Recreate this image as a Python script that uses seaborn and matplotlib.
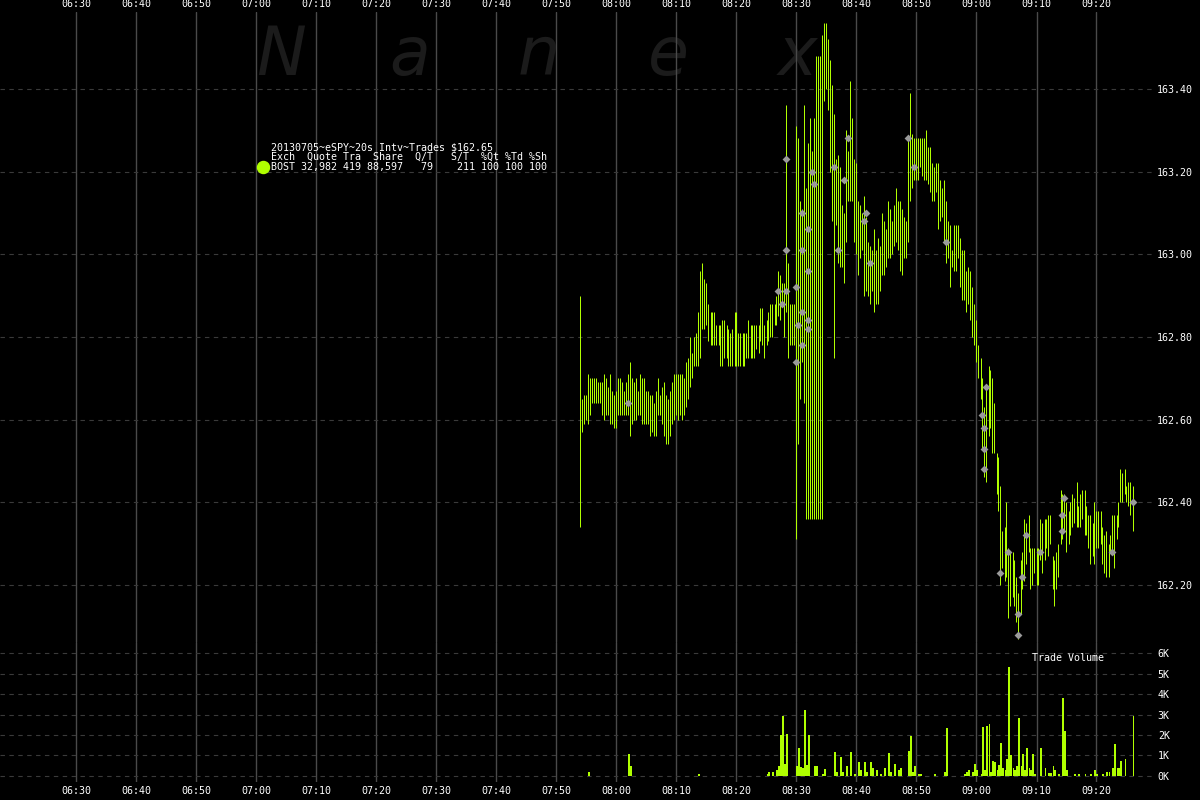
import numpy as np
import pandas as pd
import matplotlib
matplotlib.use("Agg")
import matplotlib.pyplot as plt
import matplotlib.dates as mdates
import seaborn as sns

# estilo escuro tipo Nanex
sns.set_theme(style="dark", rc={"axes.facecolor": "black", "figure.facecolor": "black",
                                "savefig.facecolor": "black"})
plt.rcParams['font.family'] = ['DejaVu Sans Mono', 'DejaVu Sans']

LIME = "#b0ff00"
GRID_V = "#4a4a4a"
GRID_H = "#3a3a3a"

# dados: barras de 20s a partir das 07:54:00
bar_start = "2013-07-05 07:54:00"
highs = [
    162.90, 162.65, 162.66, 162.66, 162.71, 162.70, 162.70, 162.70, 162.70, 162.69,
    162.69, 162.69, 162.71, 162.70, 162.68, 162.71, 162.67, 162.66, 162.67, 162.70,
    162.70, 162.69, 162.67, 162.69, 162.71, 162.74, 162.70, 162.69, 162.70, 162.67,
    162.71, 162.70, 162.70, 162.67, 162.67, 162.66, 162.66, 162.64, 162.67, 162.70,
    162.66, 162.68, 162.69, 162.66, 162.65, 162.67, 162.69, 162.71, 162.71, 162.71,
    162.71, 162.71, 162.70, 162.74, 162.75, 162.80, 162.76, 162.80, 162.81, 162.86,
    162.96, 162.98, 162.94, 162.93, 162.88, 162.86, 162.86, 162.86, 162.83, 162.83,
    162.83, 162.84, 162.84, 162.83, 162.82, 162.81, 162.82, 162.86, 162.86, 162.81,
    162.81, 162.81, 162.81, 162.81, 162.84, 162.83, 162.83, 162.83, 162.83, 162.83,
    162.87, 162.87, 162.83, 162.84, 162.86, 162.88, 162.88, 162.88, 162.90, 162.96,
    162.95, 162.93, 162.93, 163.36, 162.98, 162.88, 162.88, 162.88, 163.31, 163.28,
    163.13, 163.11, 163.36, 163.16, 163.27, 163.33, 163.25, 163.33, 163.48, 163.48,
    163.48, 163.53, 163.56, 163.56, 163.52, 163.47, 163.41, 163.34, 163.23, 163.24,
    163.21, 163.12, 163.10, 163.30, 163.25, 163.42, 163.33, 163.23, 163.22, 163.13,
    163.12, 163.10, 163.14, 163.09, 163.03, 163.02, 163.01, 163.06, 163.01, 163.04,
    163.02, 163.10, 163.08, 163.06, 163.13, 163.11, 163.08, 163.12, 163.16, 163.13,
    163.13, 163.11, 163.09, 163.08, 163.28, 163.39, 163.29, 163.28, 163.28, 163.28,
    163.28, 163.28, 163.28, 163.30, 163.26, 163.26, 163.22, 163.21, 163.22, 163.22,
    163.18, 163.16, 163.18, 163.13, 163.08, 163.07, 163.01, 163.07, 163.07, 163.07,
    163.04, 163.01, 163.01, 162.96, 162.97, 162.96, 162.92, 162.88, 162.84, 162.78,
    162.75, 162.70, 162.63, 162.68, 162.73, 162.72, 162.70, 162.64, 162.52, 162.51,
    162.44, 162.33, 162.34, 162.40, 162.29, 162.28, 162.28, 162.26, 162.22, 162.18,
    162.26, 162.28, 162.36, 162.35, 162.37, 162.29, 162.29, 162.29, 162.29, 162.29,
    162.36, 162.35, 162.36, 162.36, 162.37, 162.37, 162.27, 162.26, 162.28, 162.30,
    162.43, 162.42, 162.42, 162.40, 162.38, 162.40, 162.42, 162.41, 162.45, 162.39,
    162.42, 162.43, 162.43, 162.39, 162.37, 162.37, 162.35, 162.40, 162.38, 162.38,
    162.38, 162.34, 162.32, 162.33, 162.30, 162.32, 162.37, 162.37, 162.37, 162.40,
    162.48, 162.47, 162.48, 162.44, 162.45, 162.45, 162.44,
]
lows = [
    162.34, 162.57, 162.59, 162.60, 162.59, 162.61, 162.64, 162.64, 162.64, 162.64,
    162.64, 162.61, 162.60, 162.61, 162.61, 162.59, 162.59, 162.58, 162.58, 162.61,
    162.61, 162.61, 162.61, 162.61, 162.61, 162.56, 162.59, 162.60, 162.60, 162.61,
    162.61, 162.59, 162.59, 162.59, 162.59, 162.56, 162.57, 162.56, 162.56, 162.61,
    162.61, 162.59, 162.56, 162.54, 162.54, 162.56, 162.59, 162.60, 162.61, 162.60,
    162.61, 162.60, 162.61, 162.63, 162.65, 162.68, 162.70, 162.73, 162.73, 162.73,
    162.75, 162.82, 162.82, 162.83, 162.79, 162.78, 162.78, 162.78, 162.78, 162.78,
    162.73, 162.73, 162.75, 162.75, 162.73, 162.73, 162.73, 162.73, 162.73, 162.73,
    162.73, 162.73, 162.73, 162.75, 162.75, 162.75, 162.75, 162.75, 162.77, 162.76,
    162.79, 162.78, 162.75, 162.78, 162.79, 162.80, 162.80, 162.83, 162.83, 162.85,
    162.84, 162.88, 162.80, 162.86, 162.75, 162.78, 162.78, 162.78, 162.31, 162.54,
    162.65, 162.74, 162.64, 162.36, 162.36, 162.36, 162.36, 162.36, 162.36, 162.36,
    162.36, 162.36, 163.37, 163.40, 163.35, 163.20, 163.08, 162.75, 163.07, 162.98,
    162.97, 162.97, 162.93, 163.03, 163.13, 163.13, 163.13, 163.03, 163.00, 162.95,
    162.99, 163.01, 162.90, 162.91, 162.90, 162.88, 162.91, 162.86, 162.88, 162.88,
    162.91, 162.95, 162.95, 162.97, 162.99, 162.99, 163.00, 163.02, 163.03, 163.01,
    162.96, 162.95, 162.99, 162.99, 163.03, 163.13, 163.16, 163.18, 163.18, 163.18,
    163.21, 163.19, 163.18, 163.18, 163.17, 163.15, 163.13, 163.13, 163.15, 163.06,
    163.08, 163.09, 163.03, 162.98, 162.99, 162.92, 162.97, 162.96, 162.96, 162.99,
    162.92, 162.89, 162.89, 162.86, 162.88, 162.84, 162.80, 162.78, 162.74, 162.70,
    162.65, 162.53, 162.46, 162.45, 162.56, 162.58, 162.52, 162.52, 162.42, 162.38,
    162.20, 162.24, 162.21, 162.22, 162.12, 162.15, 162.17, 162.15, 162.11, 162.07,
    162.13, 162.19, 162.21, 162.25, 162.28, 162.19, 162.20, 162.23, 162.20, 162.20,
    162.26, 162.23, 162.26, 162.29, 162.27, 162.30, 162.19, 162.15, 162.19, 162.22,
    162.30, 162.31, 162.33, 162.28, 162.30, 162.32, 162.34, 162.35, 162.34, 162.34,
    162.34, 162.36, 162.32, 162.32, 162.29, 162.25, 162.27, 162.25, 162.29, 162.29,
    162.30, 162.25, 162.23, 162.22, 162.22, 162.28, 162.28, 162.24, 162.31, 162.34,
    162.40, 162.40, 162.42, 162.40, 162.39, 162.37, 162.33,
]

# pontos cinza (negócios marcados)
dot_bar = [24, 99, 101, 103, 103, 103, 108, 108, 109, 111, 111, 111, 111, 114, 114,
           114, 114, 116, 117, 127, 129, 132, 134, 142, 143, 145, 164, 167, 183, 201,
           202, 202, 202, 203, 210, 214, 219, 219, 221, 223, 230, 241, 241, 242, 266, 276]
dot_price = [162.64, 162.91, 162.88, 163.23, 163.01, 162.91, 162.92, 162.74, 162.83,
             163.10, 163.01, 162.86, 162.78, 163.06, 162.96, 162.84, 162.82, 163.20,
             163.17, 163.21, 163.01, 163.18, 163.28, 163.08, 163.10, 162.98, 163.28,
             163.21, 163.03, 162.61, 162.58, 162.53, 162.48, 162.68, 162.23, 162.28,
             162.13, 162.08, 162.22, 162.32, 162.28, 162.37, 162.33, 162.41, 162.28,
             162.40]

# volume por barra (índice da barra, ações)
vol_bar = [4, 24, 25, 59, 93, 94, 96, 98, 99, 100, 101, 102, 103, 108, 109, 110, 111,
           112, 113, 114, 117, 118, 121, 122, 127, 128, 130, 131, 133, 135, 137, 139,
           140, 142, 143, 145, 146, 148, 150, 152, 154, 155, 157, 159, 160, 164, 165,
           166, 167, 169, 170, 177, 182, 183, 192, 193, 194, 196, 197, 198, 200, 201,
           202, 203, 204, 205, 206, 207, 208, 209, 210, 211, 212, 213, 214, 215, 216,
           217, 218, 219, 220, 221, 222, 223, 224, 225, 226, 227, 230, 232, 234, 235,
           236, 237, 239, 241, 242, 243, 247, 249, 252, 255, 257, 258, 261, 263, 264,
           266, 267, 268, 269, 270, 272, 276]
vol_size = [200, 1050, 500, 100, 100, 200, 200, 300, 500, 2000, 2950, 600, 2050, 500,
            1350, 450, 400, 3200, 550, 2000, 500, 500, 100, 350, 1150, 200, 950, 200,
            500, 1150, 100, 700, 300, 700, 200, 700, 400, 300, 100, 400, 1100, 200, 600,
            300, 400, 1200, 1950, 200, 500, 100, 100, 100, 200, 2350, 100, 200, 300, 200,
            600, 300, 100, 2400, 300, 2450, 2550, 200, 750, 700, 300, 550, 1600, 400,
            300, 850, 5300, 1000, 400, 300, 500, 2850, 500, 1050, 300, 1350, 400, 300,
            1050, 100, 1350, 400, 150, 150, 500, 300, 100, 3800, 2200, 300, 100, 100,
            100, 100, 300, 100, 100, 200, 200, 400, 1550, 400, 400, 750, 850, 2950]

price_ticks = [162.20, 162.40, 162.60, 162.80, 163.00, 163.20, 163.40]
vol_ticks = [0, 1000, 2000, 3000, 4000, 5000, 6000]
vol_labels = ["0K", "1K", "2K", "3K", "4K", "5K", "6K"]
legend_lines = [
    "20130705~eSPY~20s Intv~Trades $162.65",
    "Exch  Quote Tra  Share  Q/T   S/T  %Qt %Td %Sh",
    "BOST 32,982 419 88,597   79    211 100 100 100",
]

times = pd.date_range(bar_start, periods=len(highs), freq="20s")
df = pd.DataFrame({"time": times, "high": highs, "low": lows})
dots = pd.DataFrame({"time": times[dot_bar], "price": dot_price})
vol = pd.DataFrame({"time": times[vol_bar], "size": vol_size})

W, H = 1200, 800
x0 = pd.Timestamp("2013-07-05 06:17:15")
x1 = pd.Timestamp("2013-07-05 09:29:45")
grid_times = pd.date_range("2013-07-05 06:30", "2013-07-05 09:20", freq="10min")

fig = plt.figure(figsize=(12, 8), dpi=100)
ax = fig.add_axes([0, (H - 642) / H, 1155 / W, (642 - 12) / H])
axv = fig.add_axes([0, (H - 782) / H, 1155 / W, (782 - 642) / H])

# marca d'água
for i, ch in enumerate("Nanex"):
    ax.text((281 + 129 * i) / W, 1 - 75 / H, ch, transform=fig.transFigure,
            fontsize=48, style="italic", family="DejaVu Sans", color="#1b1b1b",
            ha="center", va="baseline", zorder=0)

# barras de preço (1 px de largura)
ax.vlines(df["time"], df["low"], df["high"], colors=LIME, linewidth=0.72,
          snap=True, zorder=2)
sns.scatterplot(data=dots, x="time", y="price", ax=ax, marker="D", s=16,
                color="#9a9a9a", edgecolor="#9a9a9a", linewidth=0, zorder=3, legend=False)

ax.set_xlim(x0, x1)
ax.set_ylim(162.062, 163.586)
ax.set_yticks(price_ticks)
ax.set_yticklabels([f"{p:.2f}" for p in price_ticks])
ax.set_xticks(grid_times)
ax.xaxis.set_major_formatter(mdates.DateFormatter("%H:%M"))
ax.xaxis.tick_top()
ax.yaxis.tick_right()
ax.tick_params(axis="x", length=0, pad=2, labelsize=7.2, colors="white")
ax.tick_params(axis="y", length=0, pad=1.5, labelsize=7.2, colors="white")
ax.grid(axis="x", color=GRID_V, linewidth=1, linestyle="-")
ax.grid(axis="y", color=GRID_H, linewidth=0.8, linestyle=(0, (4, 4)))
ax.set_axisbelow(True)
ax.set_xlabel("")
ax.set_ylabel("")
for s in ax.spines.values():
    s.set_visible(False)

# legenda
ax.scatter([263 / W], [1 - 167 / H], s=75, color=LIME, transform=fig.transFigure,
           clip_on=False, zorder=4)
for i, line in enumerate(legend_lines):
    fig.text(271 / W, 1 - (147 + 10 * i) / H, line, fontsize=7.2, color="white",
             ha="left", va="center")

# painel de volume
axv.bar(vol["time"], vol["size"], width=pd.Timedelta(seconds=20), align="edge",
        color=LIME, linewidth=0, antialiased=False, zorder=2)
axv.set_xlim(x0, x1)
axv.set_ylim(-293, 6537)
axv.set_yticks(vol_ticks)
axv.set_yticklabels(vol_labels)
axv.set_xticks(grid_times)
axv.xaxis.set_major_formatter(mdates.DateFormatter("%H:%M"))
axv.yaxis.tick_right()
axv.tick_params(axis="x", length=0, pad=3, labelsize=7.2, colors="white")
axv.tick_params(axis="y", length=0, pad=2, labelsize=7.2, colors="white")
axv.grid(axis="x", color=GRID_V, linewidth=1, linestyle="-")
axv.grid(axis="y", color=GRID_H, linewidth=0.8, linestyle=(0, (4, 4)))
axv.set_axisbelow(True)
axv.set_facecolor("black")
for s in axv.spines.values():
    s.set_visible(False)
axv.text(1032 / W, 1 - 658 / H, "Trade Volume", transform=fig.transFigure,
         fontsize=7.2, color="white", ha="left", va="center")

fig.savefig("out.png", dpi=100, facecolor="black")
